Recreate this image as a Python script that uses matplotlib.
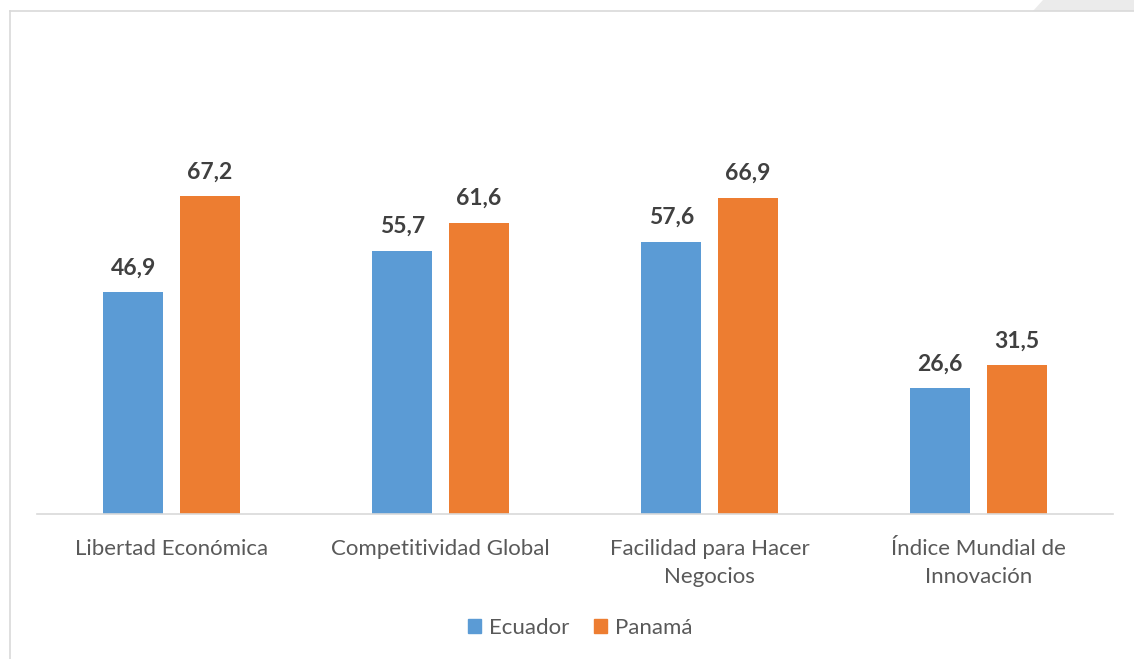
import numpy as np
import matplotlib.pyplot as plt
from matplotlib.lines import Line2D
from matplotlib.patches import Polygon, Patch

categories = ["Libertad Económica", "Competitividad Global",
              "Facilidad para Hacer\nNegocios", "Índice Mundial de\nInnovación"]
ecuador = [46.9, 55.7, 57.6, 26.6]
panama = [67.2, 61.6, 66.9, 31.5]
series_names = ["Ecuador", "Panamá"]

blue = "#5b9bd5"
orange = "#ed7d31"
W, H = 1134, 659

plt.rcParams["font.family"] = ["Lato", "DejaVu Sans"]

fig = plt.figure(figsize=(W / 100, H / 100), dpi=100)
fig.patch.set_facecolor("white")

# marco del gráfico y esquina gris
fig.add_artist(Polygon([(1033 / W, 1 - 11 / H), (1043 / W, 1.0), (1.0, 1.0), (1.0, 1 - 11 / H)],
                       closed=True, transform=fig.transFigure, facecolor="#ebebeb",
                       edgecolor="none"))
fig.add_artist(Line2D([10 / W, 1.0], [1 - 11 / H, 1 - 11 / H], transform=fig.transFigure,
                      color="#d9d9d9", lw=1.2))
fig.add_artist(Line2D([10 / W, 10 / W], [0, 1 - 11 / H], transform=fig.transFigure,
                      color="#d9d9d9", lw=1.2))

ax = fig.add_axes([37 / W, 145 / H, (1113 - 37) / W, (514 - 136) / H])
x = np.arange(len(categories))
w = 0.223
off = 0.142
b1 = ax.bar(x - off, ecuador, w, color=blue, label=series_names[0])
b2 = ax.bar(x + off, panama, w, color=orange, label=series_names[1])

for bars, vals in ((b1, ecuador), (b2, panama)):
    for r, v in zip(bars, vals):
        ax.annotate(f"{v:.1f}".replace(".", ","), (r.get_x() + r.get_width() / 2, v),
                    xytext=(0, 10), textcoords="offset points", ha="center", va="bottom",
                    fontsize=16.5, fontweight="bold", color="#404040")

ax.set_xlim(-0.5, 3.5)
ax.set_ylim(0, 80)
ax.set_yticks([])
ax.set_xticks(x)
ax.set_xticklabels(categories, fontsize=16, color="#595959", linespacing=1.5)
ax.tick_params(axis="x", length=0, pad=18)
for s in ("top", "right", "left"):
    ax.spines[s].set_visible(False)
ax.spines["bottom"].set_color("#d9d9d9")
ax.spines["bottom"].set_linewidth(1.2)

handles = [Patch(color=blue), Patch(color=orange)]
leg = fig.legend(handles, series_names, loc="center", bbox_to_anchor=(580 / W, 1 - 628 / H),
                 ncol=2, frameon=False, fontsize=16, handlelength=0.6, handleheight=0.6,
                 handletextpad=0.35, columnspacing=1.1)
for t in leg.get_texts():
    t.set_color("#595959")

fig.savefig("out.png", dpi=100)
